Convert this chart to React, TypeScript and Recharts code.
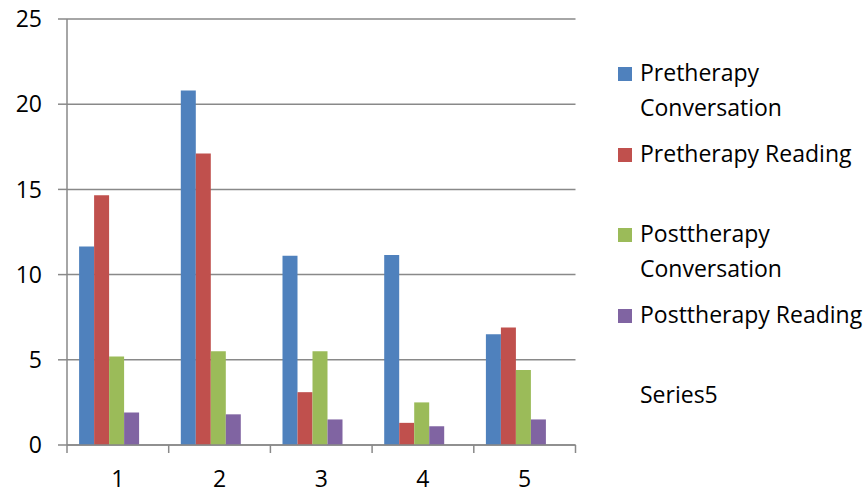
import { Bar, BarChart, CartesianGrid, XAxis, YAxis } from "recharts";

const categories = ["1", "2", "3", "4", "5"];
const preConversation = [11.65, 20.8, 11.1, 11.15, 6.5];
const preReading = [14.65, 17.1, 3.1, 1.3, 6.9];
const postConversation = [5.2, 5.5, 5.5, 2.5, 4.4];
const postReading = [1.9, 1.8, 1.5, 1.1, 1.5];
// Series5 has no values but still keeps its slot in each cluster
const series5: (number | null)[] = [null, null, null, null, null];
const yTicks = [0, 5, 10, 15, 20, 25];

const series = [
  { key: "s1", name: "Pretherapy Conversation", color: "#4F81BD", values: preConversation },
  { key: "s2", name: "Pretherapy Reading", color: "#C0504D", values: preReading },
  { key: "s3", name: "Posttherapy Conversation", color: "#9BBB59", values: postConversation },
  { key: "s4", name: "Posttherapy Reading", color: "#8064A2", values: postReading },
  { key: "s5", name: "Series5", color: "none", values: series5 },
];

const data = categories.map((c, i) => {
  const row: Record<string, string | number | null> = { cat: c };
  series.forEach((s) => (row[s.key] = s.values[i]));
  return row;
});

const W = 868;
const H = 493;
const PLOT_LEFT = 67;
const PLOT_RIGHT = 575.5;
const AXIS = "#898989";
const FONT = "'Open Sans', sans-serif";

const HALF_BAND = (PLOT_RIGHT - PLOT_LEFT) / categories.length / 2;

/** Category label plus tick marks on the band boundaries (Excel style). */
function CatTick(props: { x?: number; y?: number; index?: number; payload?: { value?: string } }) {
  const { x = 0, y = 0, index = 0, payload } = props;
  const left = x - HALF_BAND;
  const right = x + HALF_BAND;
  return (
    <g>
      <line x1={left} x2={left} y1={y - 8} y2={y} stroke={AXIS} strokeWidth={1.5} />
      {index === categories.length - 1 && (
        <line x1={right} x2={right} y1={y - 8} y2={y} stroke={AXIS} strokeWidth={1.5} />
      )}
      <text x={x} y={y + 34} textAnchor="middle" fontSize={23} fontFamily={FONT} fill="#000">
        {payload?.value}
      </text>
    </g>
  );
}

function LegendBox() {
  return (
    <div style={{ position: "absolute", left: 0, top: 0, width: W, height: H, pointerEvents: "none" }}>
      {series.map((s, i) => {
        const top = 55 + i * 80.5;
        return (
          <div key={s.key} style={{ position: "absolute", left: 618, top, width: 250 }}>
            {s.color !== "none" && (
              <div
                style={{ position: "absolute", left: 0, top: 12, width: 14, height: 14, background: s.color }}
              />
            )}
            <div
              style={{
                marginLeft: 22,
                fontFamily: FONT,
                fontSize: 23,
                lineHeight: "35px",
                color: "#000",
                whiteSpace: "pre-line",
              }}
            >
              {s.name.endsWith("Conversation") ? s.name.replace(" ", "\n") : s.name}
            </div>
          </div>
        );
      })}
    </div>
  );
}

export default function App() {
  return (
    <div style={{ position: "absolute", left: 0, top: 0, width: W, height: H, background: "#fff" }}>
      <BarChart
        width={W}
        height={H}
        data={data}
        margin={{ top: 19, right: W - PLOT_RIGHT, bottom: 0, left: 0 }}
        barCategoryGap="11.9%"
        barGap={0}
      >
        <CartesianGrid vertical={false} stroke={AXIS} strokeWidth={1.5} />
        <XAxis
          dataKey="cat"
          height={48}
          axisLine={{ stroke: AXIS, strokeWidth: 1.5 }}
          tickLine={false}
          tickSize={8}
          tickMargin={0}
          interval={0}
          tick={<CatTick />}
        />
        <YAxis
          width={PLOT_LEFT}
          domain={[0, 25]}
          ticks={yTicks}
          interval={0}
          axisLine={{ stroke: AXIS, strokeWidth: 1.5 }}
          tickLine={{ stroke: AXIS, strokeWidth: 1.5 }}
          tickSize={9}
          tickMargin={16}
          tick={{ fontSize: 23, fontFamily: FONT, fill: "#000" }}
        />
        {series.map((s) => (
          <Bar key={s.key} dataKey={s.key} name={s.name} fill={s.color} isAnimationActive={false} />
        ))}
      </BarChart>
      <LegendBox />
    </div>
  );
}
